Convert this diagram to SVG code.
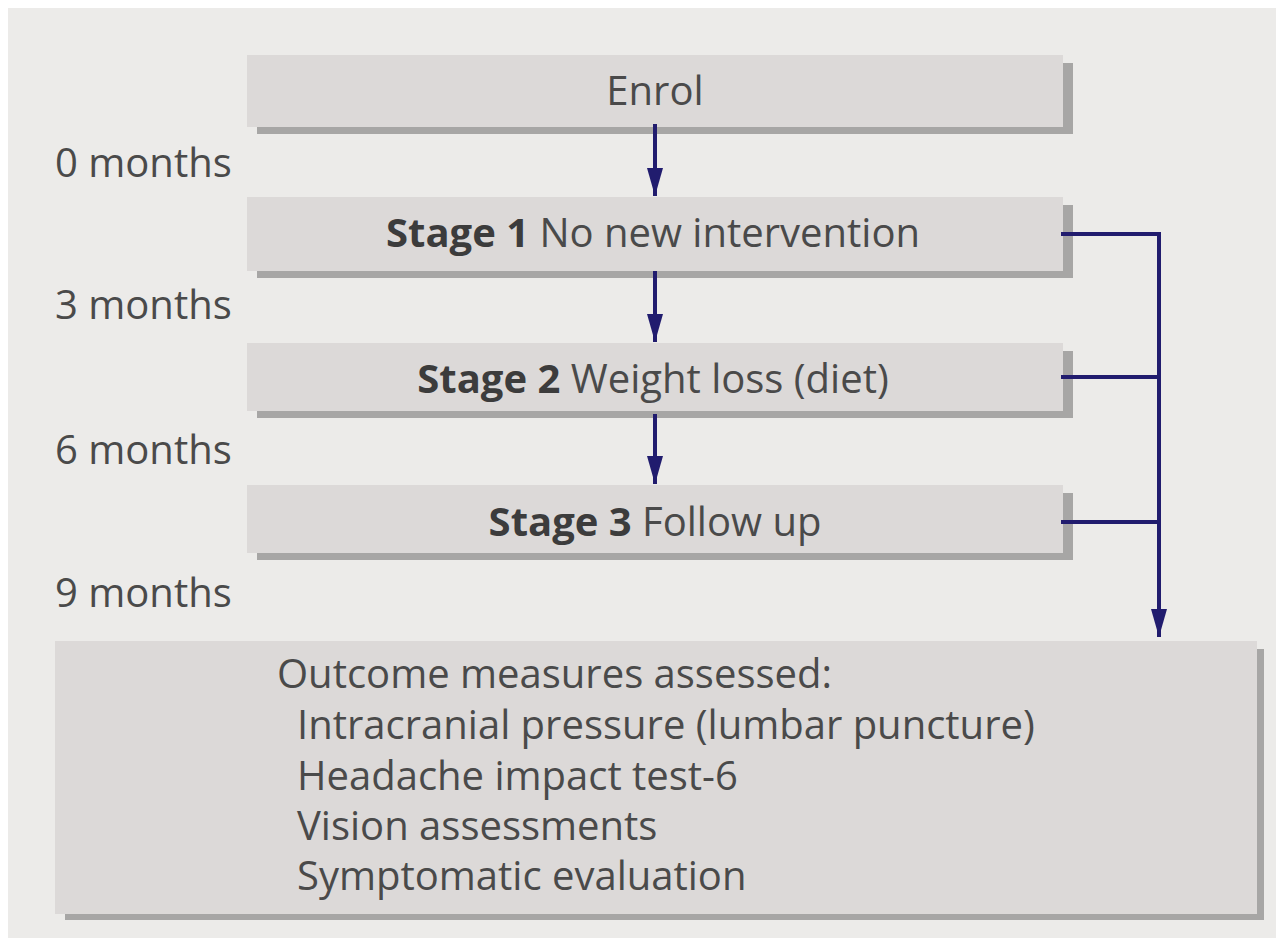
<svg xmlns="http://www.w3.org/2000/svg" width="1276" height="938" viewBox="0 0 1276 938">
<defs>
<style>
.bg{fill:#ECEBE9}
.box{fill:#DCD9D8}
.sh{fill:#A7A6A5}
.t{font-family:"Open Sans","Noto Sans",sans-serif;font-size:40px;fill:#4A4A4A}
.b{font-weight:bold;fill:#3C3C3C}
.mid{text-anchor:middle}
.ln{stroke:#211C6E;stroke-width:4;fill:none}
</style>
<marker id="ahd" viewBox="0 0 16 28" refX="8" refY="28" markerUnits="userSpaceOnUse" markerWidth="16" markerHeight="28" orient="0">
<path d="M0,0 L16,0 L8,28 Z" fill="#211C6E"/>
</marker>
</defs>
<rect x="0" y="0" width="1276" height="938" fill="#FFFFFF"/>
<rect class="bg" x="8" y="8" width="1268" height="930"/>

<g id="labels">
<text class="t" x="55" y="177">0 months</text>
<text class="t" x="55" y="319">3 months</text>
<text class="t" x="55" y="464">6 months</text>
<text class="t" x="55" y="607">9 months</text>
</g>

<g id="enrol">
<rect class="sh" x="257" y="63" width="816" height="71"/>
<rect class="box" x="247" y="55" width="816" height="72"/>
<text class="t mid" x="655" y="105">Enrol</text>
</g>

<g id="stage1">
<rect class="sh" x="257" y="205" width="816" height="73"/>
<rect class="box" x="247" y="197" width="816" height="74"/>
<text class="t mid" x="653" y="247"><tspan class="b">Stage 1</tspan> No new intervention</text>
</g>

<g id="stage2">
<rect class="sh" x="257" y="351" width="816" height="67"/>
<rect class="box" x="247" y="343" width="816" height="68"/>
<text class="t mid" x="653" y="393"><tspan class="b">Stage 2</tspan> Weight loss (diet)</text>
</g>

<g id="stage3">
<rect class="sh" x="257" y="493" width="816" height="67"/>
<rect class="box" x="247" y="485" width="816" height="68"/>
<text class="t mid" x="655" y="536"><tspan class="b">Stage 3</tspan> Follow up</text>
</g>

<g id="outcome">
<rect class="sh" x="65" y="649" width="1199" height="271"/>
<rect class="box" x="55" y="641" width="1202" height="273"/>
<text class="t" x="277" y="688">Outcome measures assessed:</text>
<text class="t" x="297" y="739">Intracranial pressure (lumbar puncture)</text>
<text class="t" x="297" y="790">Headache impact test-6</text>
<text class="t" x="297" y="840">Vision assessments</text>
<text class="t" x="297" y="890">Symptomatic evaluation</text>
</g>

<g id="connectors">
<line class="ln" x1="655" y1="124" x2="655" y2="196" marker-end="url(#ahd)"/>
<line class="ln" x1="655" y1="271" x2="655" y2="342" marker-end="url(#ahd)"/>
<line class="ln" x1="655" y1="414" x2="655" y2="484" marker-end="url(#ahd)"/>
<path class="ln" d="M1061,234 H1159 V637" marker-end="url(#ahd)"/>
<line class="ln" x1="1061" y1="377" x2="1159" y2="377"/>
<line class="ln" x1="1061" y1="522" x2="1159" y2="522"/>
</g>
</svg>
